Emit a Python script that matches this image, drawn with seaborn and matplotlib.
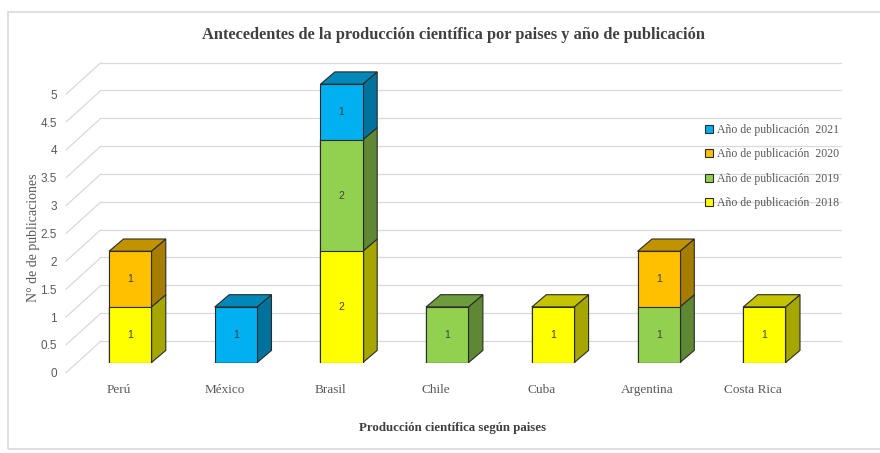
import numpy as np
import matplotlib
matplotlib.use("Agg")
import matplotlib.pyplot as plt
import seaborn as sns
from matplotlib.patches import Polygon, Rectangle
from matplotlib.transforms import ScaledTranslation

# ---------------- data ----------------
countries = ["Perú", "México", "Brasil", "Chile", "Cuba", "Argentina", "Costa Rica"]
years = ["2018", "2019", "2020", "2021"]
v2018 = [1, 0, 2, 0, 1, 0, 1]
v2019 = [0, 0, 2, 1, 0, 1, 0]
v2020 = [1, 0, 0, 0, 0, 1, 0]
v2021 = [0, 1, 1, 0, 0, 0, 0]
y_ticks = [0, 0.5, 1, 1.5, 2, 2.5, 3, 3.5, 4, 4.5, 5]
y_tick_labels = ["0", "0.5", "1", "1.5", "2", "2.5", "3", "3.5", "4", "4.5", "5"]
title = "Antecedentes de la producción científica por paises y año de publicación"
x_title = "Producción científica según paises"
y_title = "N° de de publicaciones"
legend_labels = ["Año de publicación  2018", "Año de publicación  2019",
                 "Año de publicación  2020", "Año de publicación  2021"]

# ---------------- style ----------------
front_cols = ["#FFFF00", "#92D050", "#FFC000", "#00B0F0"]
side_cols = ["#A6A600", "#5E8834", "#A67D00", "#00729C"]
top_cols = ["#C4C400", "#6C9C3C", "#C29300", "#0088B8"]
edge = "#2b2b2b"
grid_col = "#d9d9d9"
txt_col = "#595959"

sns.set_style("white")
plt.rcParams["font.family"] = ["Liberation Serif", "DejaVu Serif"]

W, H = 880, 453
fig = plt.figure(figsize=(W / 100, H / 100), dpi=100)
fig.patch.set_facecolor("white")

# bar plane: x -0.5..6.5 -> px 77.3..817.3 ; y 0 -> px 362.7, 55.7 px/unit
px_cat = 105.7
px_unit = 55.7
left_px, zero_px = 77.3, 362.7
ymax = 5.5
ax = fig.add_axes([left_px / W, (H - zero_px) / H, 7 * px_cat / W, ymax * px_unit / H])

stack = np.array([v2018, v2019, v2020, v2021], dtype=float)
cum = np.cumsum(stack, axis=0)
bw = 0.40

# front faces via seaborn (cumulative overlay, top layer first)
for i in range(len(years) - 1, -1, -1):
    sns.barplot(x=countries, y=cum[i], color=front_cols[i], saturation=1,
                width=bw, edgecolor=edge, linewidth=0.8, ax=ax, zorder=4)

# depth (3D) faces
ddx, ddy = 14.5 / px_cat, 12.3 / px_unit
for j in range(len(countries)):
    xl, xr = j - bw / 2, j + bw / 2
    top_layer = None
    for i in range(len(years)):
        val = stack[i, j]
        if val <= 0:
            continue
        b, t = cum[i, j] - val, cum[i, j]
        ax.add_patch(Polygon([(xr, b), (xr + ddx, b + ddy), (xr + ddx, t + ddy), (xr, t)],
                             closed=True, facecolor=side_cols[i], edgecolor=edge,
                             linewidth=0.8, zorder=3))
        ax.text(j, b + val / 2, f"{int(val)}", ha="center", va="center", fontsize=7.5,
                color="#404040", family=["Liberation Sans", "DejaVu Sans"], zorder=6)
        top_layer = i
    if top_layer is not None:
        t = cum[top_layer, j]
        ax.add_patch(Polygon([(xl, t), (xr, t), (xr + ddx, t + ddy), (xl + ddx, t + ddy)],
                             closed=True, facecolor=top_cols[top_layer], edgecolor=edge,
                             linewidth=0.8, zorder=3))

# gridlines: back wall + left diagonals
dxf, dyf = -11.3 / px_cat, -10.0 / px_unit
dxb, dyb = 23.7 / px_cat, 21.7 / px_unit
for v in y_ticks:
    ax.plot([-0.5 + dxf, -0.5 + dxb], [v + dyf, v + dyb], color=grid_col, lw=0.9,
            zorder=1, clip_on=False)
    ax.plot([-0.5 + dxb, 6.5 + dxb], [v + dyb, v + dyb], color=grid_col, lw=0.9,
            zorder=1, clip_on=False)

ax.set_xlim(-0.5, 6.5)
ax.set_ylim(0, ymax)
for s in ax.spines.values():
    s.set_visible(False)
ax.set_xlabel("")
ax.set_ylabel("")

ax.set_yticks(y_ticks, y_tick_labels)
ax.tick_params(axis="y", length=0, pad=14.6, labelsize=8.5, labelcolor=txt_col)
for lab in ax.get_yticklabels():
    lab.set_family(["Liberation Sans", "DejaVu Sans"])
    lab.set_transform(lab.get_transform() + ScaledTranslation(0, -0.10, fig.dpi_scale_trans))

ax.set_xticks(range(len(countries)), countries)
ax.tick_params(axis="x", length=0, pad=15, labelsize=9.5, labelcolor=txt_col)
for lab in ax.get_xticklabels():
    lab.set_transform(lab.get_transform() + ScaledTranslation(-0.113, 0, fig.dpi_scale_trans))

# texts
fig.text(453 / W, 1 - 35 / H, title, ha="center", va="center", fontsize=11.8,
         weight="bold", color="#404040")
fig.text(453 / W, 1 - 428 / H, x_title, ha="center", va="center", fontsize=9.3,
         weight="bold", color="#404040")
fig.text(33 / W, 1 - 238 / H, y_title, ha="center", va="center", fontsize=10,
         rotation=90, color=txt_col)

# legend (2021 on top)
handles = [Rectangle((0, 0), 1, 1, facecolor=front_cols[i], edgecolor=edge, linewidth=0.8)
           for i in range(len(years))][::-1]
leg = fig.legend(handles, legend_labels[::-1], loc="upper left",
                 bbox_to_anchor=(705 / W, 1 - 124 / H), frameon=False, fontsize=8.5,
                 handlelength=0.7, handleheight=0.7, handletextpad=0.3,
                 labelspacing=1.05, borderpad=0, borderaxespad=0)
for t in leg.get_texts():
    t.set_color(txt_col)

# outer frame
fig.patches.append(Rectangle((8 / W, 4 / H), (W + 10) / W, 437 / H, transform=fig.transFigure,
                             fill=False, edgecolor="#d9d9d9", linewidth=1.2))

fig.savefig("out.png", dpi=100)
